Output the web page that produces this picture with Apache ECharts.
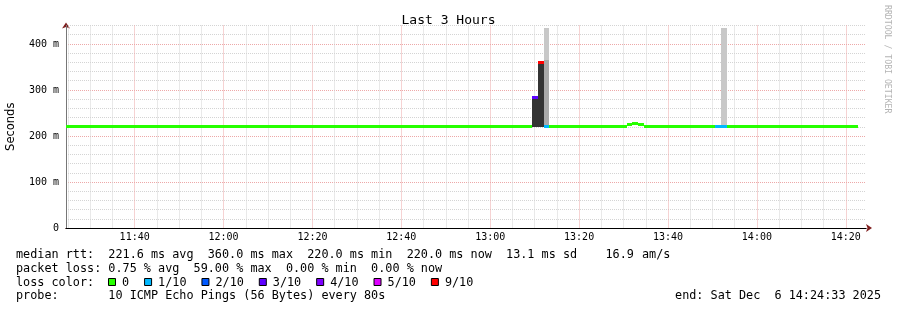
<!DOCTYPE html>
<html><head><meta charset="utf-8">
<script src="https://cdn.jsdelivr.net/npm/echarts@6/dist/echarts.min.js"></script>
<style>html,body{margin:0;padding:0;background:#fff}#c{width:897px;height:310px}</style>
</head><body><div id="c"></div>
<script>
// ---------- data ----------
const windowStart = '11:24:33';
const windowEnd = '14:24:33';
const xLabelTimes = ['11:40','12:00','12:20','12:40','13:00','13:20','13:40','14:00','14:20'];
const xGridTimes = ['11:25','11:30','11:35','11:40','11:45','11:50','11:55','12:00','12:05','12:10','12:15','12:20',
  '12:25','12:30','12:35','12:40','12:45','12:50','12:55','13:00','13:05','13:10','13:15','13:20',
  '13:25','13:30','13:35','13:40','13:45','13:50','13:55','14:00','14:05','14:10','14:15','14:20'];
const yTickValues = [0, 100, 200, 300, 400];

// median rtt runs (ms) and loss count out of 10 pings
const runStart  = ['11:24:33','13:09:20','13:10:40','13:12:00','13:13:20','13:30:40','13:32:00','13:33:20','13:34:40','13:50:40','13:53:20'];
const runEnd    = ['13:09:20','13:10:40','13:12:00','13:13:20','13:30:40','13:32:00','13:33:20','13:34:40','13:50:40','13:53:20','14:22:40'];
const runMedian = [220.0, 282.5, 360.0, 220.0, 220.0, 225.0, 228.0, 225.0, 220.0, 220.0, 220.0];
const runLoss   = [0, 3, 9, 1, 0, 0, 0, 0, 0, 1, 0];

// smoke bands (ms), shade level = ping density
const smokeStart = ['13:09:20','13:10:40','13:12:00','13:12:00','13:52:00'];
const smokeEnd   = ['13:10:40','13:12:00','13:13:20','13:13:20','13:53:20'];
const smokeLow   = [220.0, 220.0, 220.0, 365.0, 220.0];
const smokeHigh  = [282.5, 360.0, 365.0, 435.0, 435.0];
const smokeShade = [3, 3, 2, 1, 1];

// legend stats
const rttStatValues = [221.6, 360.0, 220.0, 220.0];
const statNames = ['avg', 'max', 'min', 'now'];
const rttSd = 13.1;
const rttAmS = 16.9;
const lossStatValues = [0.75, 59.00, 0.00, 0.00];
const lossLegendLabels = ['0', '1/10', '2/10', '3/10', '4/10', '5/10', '9/10'];
const lossLegendCounts = [0, 1, 2, 3, 4, 5, 9];
const probeText = '10 ICMP Echo Pings (56 Bytes) every 80s';
const endText = 'end: Sat Dec  6 14:24:33 2025';

// ---------- helpers / styles ----------
function toSec(s){ const p = s.split(':').map(Number); return p[0]*3600 + p[1]*60 + (p[2]||0); }
function pad(n){ return (n<10?'0':'') + n; }
function lossColor(n){
  const c = {0:'#26ff00',1:'#00b8ff',2:'#0059ff',3:'#5e00ff',4:'#7e00ff',5:'#dd00ff'};
  return n in c ? c[n] : '#ff0000';
}
const shadeColors = {1:'#c8c8c8', 2:'#a9a9a9', 3:'#333333'};
const MONO = '"DejaVu Sans Mono", monospace';
const gMinor = '#d4d4d4', gMajor = '#eda8a8';
const arrowColor = '#7f1d1d';

const xMin = toSec(windowStart), xMax = toSec(windowEnd);
const runData = runStart.map((s,i)=>[toSec(s), toSec(runEnd[i]), runMedian[i], runLoss[i]]);
const smokeData = smokeStart.map((s,i)=>[toSec(s), toSec(smokeEnd[i]), smokeLow[i], smokeHigh[i], smokeShade[i]]);

const chart = echarts.init(document.getElementById('c'), null, {renderer:'canvas'});

// legend graphics
const CW = 7.09, LX = 16;
const line1 = 'median rtt:  ' + rttStatValues.map((v,i)=>v.toFixed(1)+' ms '+statNames[i]).join('  ')
  + '  ' + rttSd.toFixed(1) + ' ms sd    ' + rttAmS.toFixed(1);
const line2 = 'packet loss: ' + lossStatValues.map((v,i)=>v.toFixed(2)+' % '+statNames[i]).join('  ');
const legFont = '11.8px ' + MONO;
const graphics = [];
function txt(x, y, s, align){
  graphics.push({type:'text', x:x, y:y, silent:true,
    style:{text:s, font:legFont, fill:'#000', textAlign:align||'left', textVerticalAlign:'middle'}});
}
txt(LX, 255, line1);
txt(642, 255, 'am/s');
txt(LX, 268.5, line2);
txt(LX, 282.5, 'loss color:');
txt(LX, 296, 'probe:       ' + probeText);
txt(881, 296, endText, 'right');
let sx = 108;
lossLegendLabels.forEach((lab, i)=>{
  graphics.push({type:'rect', silent:true, shape:{x:sx+0.5, y:278.5, width:7, height:7},
    style:{fill:lossColor(lossLegendCounts[i]), stroke:'#000', lineWidth:1}});
  txt(sx+14, 282.5, lab);
  sx = sx + 14 + lab.length*CW + 15;
});
graphics.push({type:'text', x:887, y:5, rotation:-Math.PI/2, silent:true,
  style:{text:'RRDTOOL / TOBI OETIKER', font:'8.2px ' + MONO, fill:'#b4b4b4', textAlign:'left', textVerticalAlign:'middle'}});

const option = {
  animation:false,
  backgroundColor:'#ffffff',
  title:{text:'Last 3 Hours', left:'center', top:9,
    textStyle:{fontFamily:MONO, fontSize:13, fontWeight:'normal', color:'#000', lineHeight:14}},
  grid:{left:66, top:25.5, width:800, height:202.5, containLabel:false, outerBoundsMode:'none'},
  xAxis:[{
    type:'value', min:xMin, max:xMax, z:1,
    axisLine:{show:true, onZero:false, lineStyle:{color:'#000', width:1}},
    axisTick:{show:false, customValues: xGridTimes.map(toSec)},
    axisLabel:{customValues: xLabelTimes.map(toSec), margin:4, fontFamily:MONO, fontSize:10, color:'#000',
      formatter:v=>pad(Math.floor(v/3600)) + ':' + pad(Math.floor((v%3600)/60))},
    splitLine:{show:true, lineStyle:{color:[gMinor,gMinor,gMinor,gMajor], type:[1,1], width:1}}
  },{
    type:'value', min:xMin, max:xMax, position:'bottom', z:0,
    axisLine:{show:true, onZero:false, lineStyle:{color:arrowColor, width:1},
      symbol:['none','arrow'], symbolSize:[6,6], symbolOffset:[0,6]},
    axisTick:{show:false}, axisLabel:{show:false}, splitLine:{show:false}
  }],
  yAxis:[{
    type:'value', min:0, max:440, interval:20, z:1,
    name:'Seconds', nameLocation:'middle', nameGap:49, nameRotate:90,
    nameTextStyle:{fontFamily:'"DejaVu Sans", sans-serif', fontSize:11.5, color:'#000'},
    axisLine:{show:true, onZero:false, lineStyle:{color:'#777', width:1}},
    axisTick:{show:false},
    axisLabel:{margin:7, fontFamily:MONO, fontSize:10, color:'#000', showMaxLabel:false,
      formatter:v=> yTickValues.indexOf(v) < 0 ? '' : (v===0 ? '0' : v + ' m')},
    splitLine:{show:true, lineStyle:{color:[gMajor,gMinor,gMinor,gMinor,gMinor], type:[1,1], width:1}}
  },{
    type:'value', min:0, max:440, position:'left', z:0,
    axisLine:{show:true, onZero:false, lineStyle:{color:arrowColor, width:1},
      symbol:['none','arrow'], symbolSize:[6,6], symbolOffset:[0,3]},
    axisTick:{show:false}, axisLabel:{show:false}, splitLine:{show:false}
  }],
  series:[{
    type:'custom', name:'smoke', xAxisIndex:0, yAxisIndex:0, z:3,
    data:smokeData, encode:{x:[0,1], y:[2,3]},
    renderItem:(params, api)=>{
      const a = api.coord([api.value(0), api.value(2)]);
      const b = api.coord([api.value(1), api.value(3)]);
      const x1 = Math.round(a[0]), x2 = Math.round(b[0]);
      const y1 = Math.round(b[1]), y2 = Math.round(a[1]);
      return {type:'rect', shape:{x:x1, y:y1, width:x2-x1, height:y2-y1},
        style:{fill:shadeColors[api.value(4)]}};
    }
  },{
    type:'custom', name:'median', xAxisIndex:0, yAxisIndex:0, z:4,
    data:runData, encode:{x:[0,1], y:2},
    renderItem:(params, api)=>{
      const a = api.coord([api.value(0), api.value(2)]);
      const b = api.coord([api.value(1), api.value(2)]);
      const x1 = Math.round(a[0]), x2 = Math.round(b[0]);
      return {type:'rect', shape:{x:x1, y:Math.round(a[1]-1.5), width:x2-x1, height:3},
        style:{fill:lossColor(api.value(3))}};
    }
  }],
  graphic:graphics
};
chart.setOption(option);
</script>
</body></html>
